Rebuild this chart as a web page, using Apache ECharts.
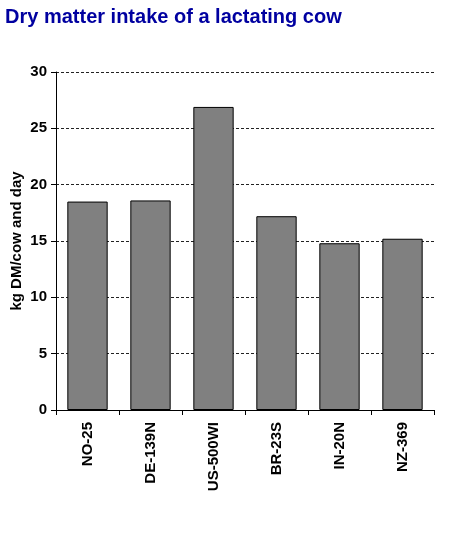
<!DOCTYPE html>
<html>
<head>
<meta charset="utf-8">
<script src="https://cdn.jsdelivr.net/npm/echarts@6/dist/echarts.min.js"></script>
<style>
html, body { margin: 0; padding: 0; background: #fff; }
#chart { width: 452px; height: 544px; }
</style>
</head>
<body>
<div id="chart"></div>
<script>
// farm names and dry matter intake (kg DM/cow and day)
const farms = ['NO-25', 'DE-139N', 'US-500WI', 'BR-23S', 'IN-20N', 'NZ-369']
const intake = [18.5, 18.6, 26.9, 17.2, 14.8, 15.2]

const font = 'Liberation Sans, Arial'
const chart = echarts.init(document.getElementById('chart'))
const option = {
    animation: false,
    title: {
        text: 'Dry matter intake of a lactating cow',
        left: 0, top: 2,
        textStyle: { color: '#0000A0', fontSize: 20, fontWeight: 'bold', fontFamily: font }
    },
    grid: { left: 56, right: 18, top: 72, bottom: 134, outerBoundsMode: 'none', containLabel: false },
    xAxis: {
        type: 'category',
        data: farms,
        axisLine: { lineStyle: { color: '#000', width: 1 } },
        axisTick: { show: true, length: 5, lineStyle: { color: '#000' } },
        axisLabel: {
            rotate: 90, color: '#000', fontSize: 15, fontWeight: 'bold',
            fontFamily: font, margin: 12
        }
    },
    yAxis: {
        type: 'value',
        min: 0, max: 30, interval: 5,
        name: 'kg DM/cow and day',
        nameLocation: 'middle',
        nameGap: 32,
        nameMoveOverlap: false,
        nameTextStyle: { color: '#000', fontSize: 15, fontWeight: 'bold', fontFamily: font },
        axisLine: { show: true, lineStyle: { color: '#000' } },
        axisTick: { show: true, length: 5, lineStyle: { color: '#000' } },
        axisLabel: { color: '#000', fontSize: 15, fontWeight: 'bold', fontFamily: font, margin: 9 },
        splitLine: { show: true, lineStyle: { color: '#222', type: [3, 2], width: 1 } }
    },
    series: [{
        type: 'bar',
        data: intake,
        barCategoryGap: '36%',
        itemStyle: { color: '#808080', borderColor: '#000', borderWidth: 1 }
    }]
}
chart.setOption(option)
</script>
</body>
</html>
